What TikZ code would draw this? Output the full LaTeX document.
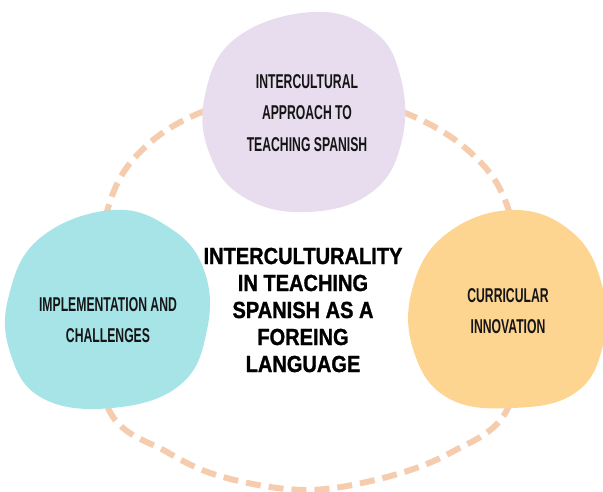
\documentclass[tikz,border=0pt]{standalone}
\usepackage{fontspec}
\setmainfont{Liberation Sans}
\newfontfamily\blobfont[FakeStretch=0.61]{Liberation Sans}
\newfontfamily\titlefont[FakeStretch=0.86,FakeBold=1.2]{Liberation Sans}

\definecolor{ringpeach}{HTML}{F5CDAE}
\definecolor{blobpurple}{HTML}{E8DDEE}
\definecolor{blobteal}{HTML}{A7E4E7}
\definecolor{bloborange}{HTML}{FED491}
\definecolor{inkblack}{HTML}{151515}

\tikzset{
    blobtext/.style={align=center, inner sep=0pt, text=inkblack,
        font=\blobfont\bfseries\fontsize{20}{31.5}\selectfont},
    titletext/.style={align=center, inner sep=0pt, text=black,
        font=\titlefont\bfseries\fontsize{23.3}{27}\selectfont},
}

\begin{document}
\begin{tikzpicture}[x=1pt, y=-1pt]

    \useasboundingbox (0,0) rectangle (603,491);

    %% Dashed ring behind the three blobs
    \draw[ringpeach, line width=6pt, dash pattern=on 15pt off 8pt]
        plot[smooth cycle, tension=0.6] coordinates {
        (305,86) (403,112) (470,152) (508,208) (524,310) (507,410)
        (450,453) (383,478) (305,490) (223,477) (167,452) (110,412)
        (92,310) (108,208) (140,152) (202,112)};

    %% Blobs
    % Top blob
    \fill[blobpurple] plot[smooth cycle, tension=0.7] coordinates {
        (312,12) (372,30) (400,75) (402,140) (372,192) (308,212)
        (245,198) (210,155) (205,95) (236,38)};

    % Left blob
    \fill[blobteal] plot[smooth cycle, tension=0.7] coordinates {
        (112,210) (170,228) (204,270) (207,330) (180,385) (112,408)
        (42,398) (10,352) (9,295) (40,238)};

    % Right blob
    \fill[bloborange] plot[smooth cycle, tension=0.7] coordinates {
        (512,210) (572,232) (602,285) (603,345) (575,393) (512,408)
        (448,398) (414,352) (412,290) (445,235)};

    %% Texts
    \node[blobtext] (approach) at (307,113)
        {INTERCULTURAL\\APPROACH TO\\TEACHING SPANISH};
    \node[blobtext] (implement) at (108,320)
        {IMPLEMENTATION AND\\CHALLENGES};
    \node[blobtext] (curricular) at (508,311)
        {CURRICULAR\\INNOVATION};
    \node[titletext] (theme) at (303,310)
        {INTERCULTURALITY\\IN TEACHING\\SPANISH AS A\\FOREING\\LANGUAGE};

\end{tikzpicture}
\end{document}
